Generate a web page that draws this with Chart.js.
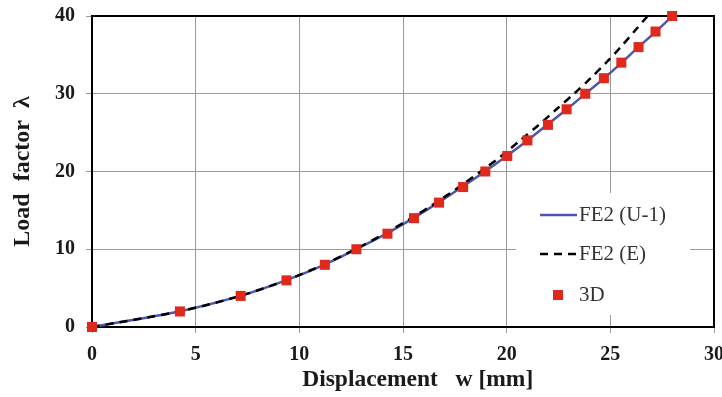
<!DOCTYPE html>
<html>
<head>
<meta charset="utf-8">
<script src="https://cdn.jsdelivr.net/npm/chart.js@4.4.1/dist/chart.umd.min.js"></script>
<style>
  html, body { margin: 0; padding: 0; background: #fff; }
  #wrap { width: 722px; height: 397px; }
</style>
</head>
<body>
<div id="wrap"><canvas id="chart" width="722" height="397"></canvas></div>
<script>
// load factor steps (shared by all series)
const lambdaSteps = [0, 2, 4, 6, 8, 10, 12, 14, 16, 18, 20, 22, 24, 26, 28, 30, 32, 34, 36, 38, 40];

// displacement w [mm]
const wFE2U1 = [0, 4.2, 7.15, 9.35, 11.2, 12.75, 14.2, 15.5, 16.7, 17.85, 18.95, 20.0, 21.0, 21.95, 22.9, 23.8, 24.7, 25.55, 26.35, 27.2, 28.0];
const wFE2E  = [0, 4.2, 7.15, 9.35, 11.15, 12.7, 14.1, 15.4, 16.6, 17.7, 18.75, 19.75, 20.65, 21.55, 22.4, 23.25, 24.05, 24.8, 25.5, 26.15, 26.8];
const w3D    = [0, 4.24, 7.17, 9.38, 11.23, 12.75, 14.25, 15.53, 16.74, 17.9, 18.97, 20.03, 21.0, 21.99, 22.89, 23.79, 24.69, 25.53, 26.36, 27.18, 27.98];

const xTicks = [0, 5, 10, 15, 20, 25, 30];
const yTicks = [0, 10, 20, 30, 40];

const BLUE = '#4b55b3';
const RED = '#e0291d';
const SERIF = '"Liberation Serif", "Times New Roman", serif';

function pts(xs, ys) {
  return xs.map((x, i) => ({ x: x, y: ys[i] }));
}

// box round the plot + legend inside the plot
const frameAndLegend = {
  id: 'frameAndLegend',
  beforeDatasetsDraw(chart) {
    const { ctx, chartArea: a } = chart;
    ctx.save();
    // legend background hides the grid
    ctx.fillStyle = '#fff';
    ctx.fillRect(516, 193, 174, 122);

    ctx.font = '21px ' + SERIF;
    ctx.fillStyle = '#333';
    ctx.textBaseline = 'middle';
    ctx.fillText('FE2 (U-1)', 579, 215);
    ctx.fillText('FE2 (E)', 579, 254);
    ctx.fillText('3D', 579, 295);

    ctx.lineWidth = 2.5;
    ctx.strokeStyle = BLUE;
    ctx.beginPath(); ctx.moveTo(540, 215); ctx.lineTo(577, 215); ctx.stroke();
    ctx.strokeStyle = '#000';
    ctx.setLineDash([8, 6]);
    ctx.beginPath(); ctx.moveTo(540, 254); ctx.lineTo(577, 254); ctx.stroke();
    ctx.setLineDash([]);
    ctx.fillStyle = RED;
    ctx.fillRect(553, 290, 10, 10);

    ctx.strokeStyle = '#000';
    ctx.lineWidth = 2;
    ctx.strokeRect(a.left, a.top, a.right - a.left, a.bottom - a.top);
    ctx.restore();
  }
};

new Chart(document.getElementById('chart'), {
  type: 'scatter',
  data: {
    datasets: [
      {
        label: 'FE2 (U-1)',
        data: pts(wFE2U1, lambdaSteps),
        showLine: true,
        borderColor: BLUE,
        borderWidth: 2.5,
        pointRadius: 0,
        tension: 0.3,
        order: 3
      },
      {
        label: 'FE2 (E)',
        data: pts(wFE2E, lambdaSteps),
        showLine: true,
        borderColor: '#000',
        borderWidth: 2.5,
        borderDash: [8, 6],
        pointRadius: 0,
        tension: 0.3,
        order: 2
      },
      {
        label: '3D',
        data: pts(w3D, lambdaSteps),
        showLine: false,
        pointStyle: 'rect',
        pointRadius: 7.1,
        backgroundColor: RED,
        borderColor: RED,
        borderWidth: 0,
        clip: false,
        order: 1
      }
    ]
  },
  options: {
    responsive: false,
    animation: false,
    layout: { padding: { top: 16, right: 8, left: 0, bottom: 0 } },
    plugins: { legend: { display: false }, tooltip: { enabled: false } },
    scales: {
      x: {
        type: 'linear',
        min: 0, max: 30,
        afterBuildTicks: s => { s.ticks = xTicks.map(v => ({ value: v })); },
        afterFit: s => { s.height = 70; s.paddingLeft = 0; s.paddingRight = 0; },
        grid: { color: '#9a9a9a', lineWidth: 1, tickLength: 6 },
        border: { color: '#000', width: 2 },
        ticks: { color: '#1a1a1a', padding: 10, maxRotation: 0, font: { family: SERIF, size: 20, weight: 'bold' } },
        title: {
          display: true,
          text: '     Displacement   w [mm]',
          color: '#1a1a1a',
          padding: { top: 0, bottom: 3 },
          font: { family: SERIF, size: 23.5, weight: 'bold' }
        }
      },
      y: {
        type: 'linear',
        min: 0, max: 40,
        afterBuildTicks: s => { s.ticks = yTicks.map(v => ({ value: v })); },
        afterFit: s => { s.width = 92; s.paddingTop = 0; s.paddingBottom = 0; },
        grid: { color: '#9a9a9a', lineWidth: 1, tickLength: 6 },
        border: { color: '#000', width: 2 },
        ticks: { color: '#1a1a1a', padding: 11, font: { family: SERIF, size: 20, weight: 'bold' } },
        title: {
          display: true,
          text: 'Load  factor  λ',
          color: '#1a1a1a',
          padding: { top: 8, bottom: 0 },
          font: { family: SERIF, size: 24, weight: 'bold' }
        }
      }
    }
  },
  plugins: [frameAndLegend]
});
</script>
</body>
</html>
